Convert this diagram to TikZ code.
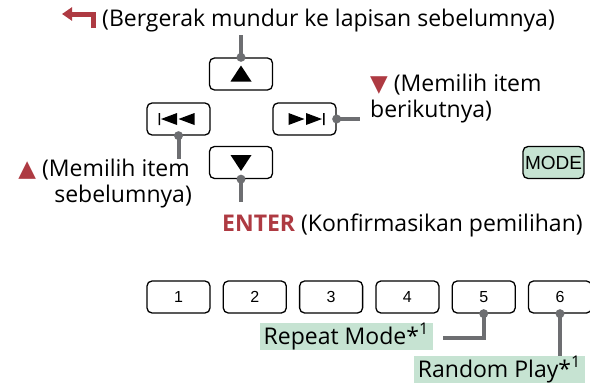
\documentclass[tikz,border=0pt]{standalone}
\usepackage{fontspec}
\setmainfont{Open Sans}
\newfontfamily\keyfont{Liberation Sans}
\newfontfamily\symfont{DejaVu Sans}
\usetikzlibrary{positioning,arrows.meta}

\definecolor{hlred}{HTML}{AE3A42}
\definecolor{leadgray}{HTML}{6D6E71}
\definecolor{tagmint}{HTML}{C6E3D2}

\tikzset{
	key/.style={draw, line width=1.3pt, rounded corners=5pt, minimum width=63pt,
		minimum height=32pt, inner sep=0pt, font=\keyfont\fontsize{16}{16}\selectfont},
	note/.style={inner sep=0pt, font=\fontsize{23}{26}\selectfont},
	tag/.style={note, fill=tagmint, minimum height=27pt, inner xsep=4pt},
	lead/.style={leadgray, line width=4pt},
}

\begin{document}
\begin{tikzpicture}[x=1pt, y=-1pt]
	\useasboundingbox (0,0) rectangle (590,383);

	% Keys:
	\node[key] (up) at (241, 74) {};
	\node[key] (prev) at (178.5, 119) {};
	\node[key] (next) at (304.5, 119) {};
	\node[key] (down) at (241, 162.5) {};
	\node[key, fill=tagmint, minimum width=61pt, font=\keyfont\fontsize{19}{19}\selectfont] (mode) at (553.5, 162.5) {MODE};

	\node[key] (k1) at (178.5, 297) {1};
	\node[key, right=12pt of k1] (k2) {2};
	\node[key, right=12pt of k2] (k3) {3};
	\node[key, right=12pt of k3] (k4) {4};
	\node[key, right=12pt of k4] (k5) {5};
	\node[key, right=12pt of k5] (k6) {6};

	% Key symbols:
	\fill[shift={(up.center)}] (-10.5,7.5) -- (10.5,7.5) -- (0,-8.5) -- cycle;
	\fill[shift={(down.center)}] (-10.5,-7.5) -- (10.5,-7.5) -- (0,8.5) -- cycle;
	\fill[shift={(prev.center)}] (-1.5,-6) -- (-1.5,6) -- (-17.5,0) -- cycle
		(16,-6) -- (16,6) -- (0,0) -- cycle (-20,-6) rectangle (-18.5,6);
	\fill[shift={(next.center)}] (1.5,-6) -- (1.5,6) -- (17.5,0) -- cycle
		(-16,-6) -- (-16,6) -- (0,0) -- cycle (20,-6) rectangle (18.5,6);

	% Texts:
	\node[note, anchor=base west] (back) at (102, 26.5) {(Bergerak mundur ke lapisan sebelumnya)};
	\node[note, anchor=base east] (prevtxt) at (190, 176) {\textcolor{hlred}{\symfont ▲} (Memilih item};
	\node[note, anchor=base east] (prevtxt2) at (192, 202) {sebelumnya)};
	\node[note, anchor=base west] (nexttxt) at (370, 91) {\textcolor{hlred}{\symfont ▼} (Memilih item};
	\node[note, anchor=base west] (nexttxt2) at (370, 117) {berikutnya)};
	\node[note, anchor=base west] (enter) at (222, 231) {\textcolor{hlred}{\bfseries ENTER} (Konfirmasikan pemilihan)};
	\node[tag, anchor=east] (rpt) at (433, 336.5) {Repeat Mode*\textsuperscript{1}};
	\node[tag, anchor=east] (rnd) at (585, 369.5) {Random Play*\textsuperscript{1}};

	% Back arrow:
	\draw[hlred, line width=5pt, -{Triangle[length=10pt, width=13pt]}] (93.5, 28) -- (93.5, 14) -- (62, 14);

	% Leads:
	\coordinate (upend) at (241, 35);
	\coordinate (prevend) at (178.5, 159);
	\coordinate (nextend) at (360, 119);
	\coordinate (downend) at (241, 202);
	\coordinate (rptend) at (443, 338);

	\draw[lead] (up.north) -- (upend);
	\draw[lead] (prev.south) -- (prevend);
	\draw[lead] (next.east) -- (nextend);
	\draw[lead] (down.south) -- (downend);
	\draw[lead] (k5.south) |- (rptend);
	\draw[lead] (k6.south) -- (k6.south |- rnd.north);

	% Dots:
	\foreach \a in {up.north, prev.south, next.east, down.south, k5.south, k6.south}
		\fill[leadgray] (\a) circle (4.5pt);

\end{tikzpicture}
\end{document}
